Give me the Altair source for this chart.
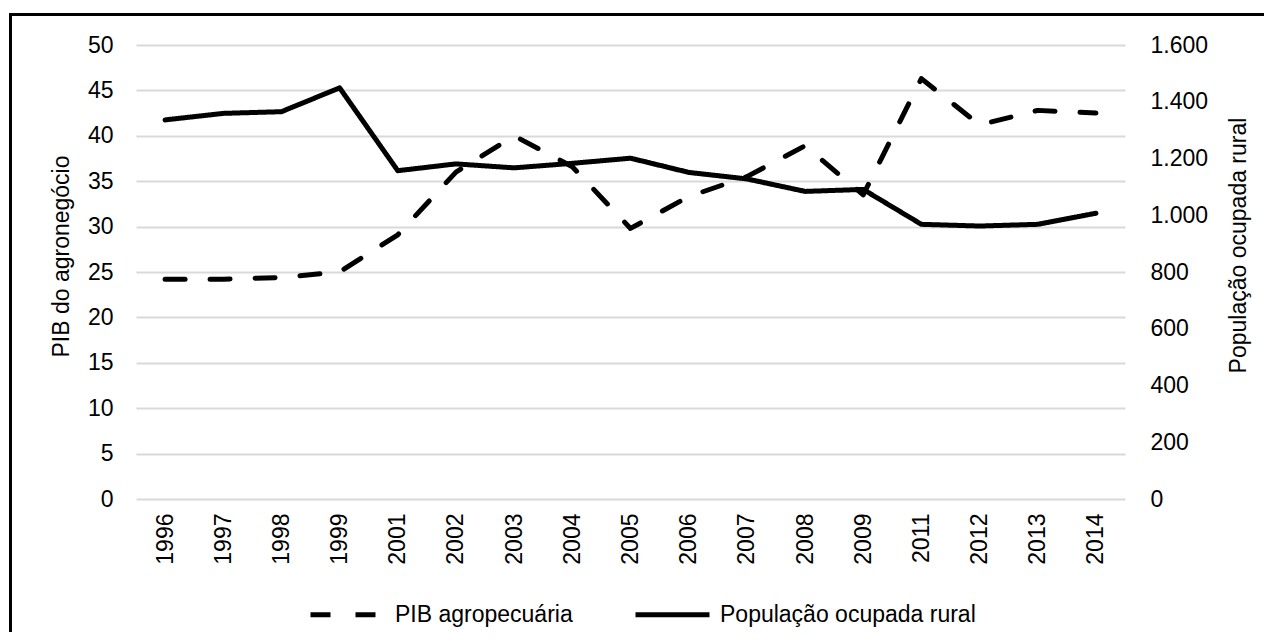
import altair as alt
import pandas as pd

years = ["1996", "1997", "1998", "1999", "2001", "2002", "2003", "2004", "2005",
         "2006", "2007", "2008", "2009", "2011", "2012", "2013", "2014"]
pib_agro = [24.2, 24.2, 24.4, 25.0, 29.1, 36.0, 40.0, 36.6, 29.8,
            33.3, 35.5, 38.9, 33.5, 46.3, 41.2, 42.8, 42.5]
pop_rural = [1336, 1359, 1365, 1449, 1157, 1181, 1167, 1183, 1201,
             1151, 1128, 1084, 1091, 968, 962, 968, 1007]
series_names = ["PIB agropecuária", "População ocupada rural"]
ticks_left = [0, 5, 10, 15, 20, 25, 30, 35, 40, 45, 50]
ticks_right = [0, 200, 400, 600, 800, 1000, 1200, 1400, 1600]

df_pib = pd.DataFrame({"ano": years, "valor": pib_agro, "serie": series_names[0]})
df_pop = pd.DataFrame({"ano": years, "valor": pop_rural, "serie": series_names[1]})

FONT = "Liberation Sans"
FS = 23
TXT = "#000000"

W, H = 989, 454
PAD_L, PAD_T = 128, 37
PAD_R, PAD_B = 139, 133

xenc = alt.X(
    "ano:O", sort=years,
    scale=alt.Scale(type="point", padding=0.5),
    axis=alt.Axis(title=None, labelAngle=270, labelPadding=14, domain=False,
                  ticks=False, grid=False, labelFontSize=FS, labelFont=FONT,
                  labelColor=TXT),
)

dash_scale = alt.Scale(domain=series_names, range=[[20, 25], [1, 0]])
legend = alt.Legend(
    orient="none", legendX=172, legendY=530, direction="horizontal", title=None,
    symbolType="stroke", symbolSize=74 * 74, symbolStrokeWidth=5,
    symbolStrokeColor="black", labelFontSize=FS, labelFont=FONT, labelColor=TXT,
    labelOffset=8, columnPadding=52, labelLimit=400,
)

line_style = dict(color="black", strokeWidth=5, strokeCap="round", strokeJoin="round")

left = alt.Chart(df_pib).mark_line(**line_style).encode(
    x=xenc,
    y=alt.Y("valor:Q", scale=alt.Scale(domain=[0, 50], nice=False, zero=True),
            axis=alt.Axis(title="PIB do agronegócio", values=ticks_left, grid=True,
                          gridColor="#d9d9d9", gridWidth=2, domain=False, ticks=False,
                          labelPadding=23, labelFontSize=FS, labelFont=FONT,
                          labelColor=TXT, titleFontSize=FS, titleFont=FONT,
                          titleColor=TXT, titleFontWeight="normal", titleX=-75,
                          titleY=211, titleAngle=270, titleAlign="center",
                          titleBaseline="middle")),
    strokeDash=alt.StrokeDash("serie:N", scale=dash_scale, legend=legend),
)

right = alt.Chart(df_pop).mark_line(**line_style).encode(
    x=xenc,
    y=alt.Y("valor:Q", scale=alt.Scale(domain=[0, 1600], nice=False, zero=True),
            axis=alt.Axis(title="População ocupada rural", orient="right",
                          values=ticks_right, grid=False, domain=False, ticks=False,
                          labelExpr="replace(format(datum.value, ',d'), ',', '.')",
                          labelPadding=25, labelFontSize=FS, labelFont=FONT,
                          labelColor=TXT, titleFontSize=FS, titleFont=FONT,
                          titleColor=TXT, titleFontWeight="normal", titleX=113,
                          titleY=200, titleAngle=270, titleAlign="center",
                          titleBaseline="middle")),
    strokeDash=alt.StrokeDash("serie:N", scale=dash_scale, legend=legend),
)

frame_src = pd.DataFrame({"k": [0]})
frame_left = alt.Chart(frame_src).mark_rule(color="black", strokeWidth=3).encode(
    x=alt.value(-125.5), y=alt.value(-31), y2=alt.value(H + PAD_B + 10)
)
frame_top = alt.Chart(frame_src).mark_rule(color="black", strokeWidth=3).encode(
    x=alt.value(-127), x2=alt.value(W + PAD_R + 10), y=alt.value(-30.5)
)

chart = alt.layer(left, right, frame_left, frame_top).resolve_scale(
    y="independent", strokeDash="shared"
).properties(
    width=W, height=H,
    autosize=alt.AutoSizeParams(type="none"),
    padding={"left": PAD_L, "top": PAD_T, "right": PAD_R, "bottom": PAD_B},
    background="white",
).configure_view(strokeWidth=0)

chart.save("out.html", embed_options={"renderer": "svg", "actions": False})
